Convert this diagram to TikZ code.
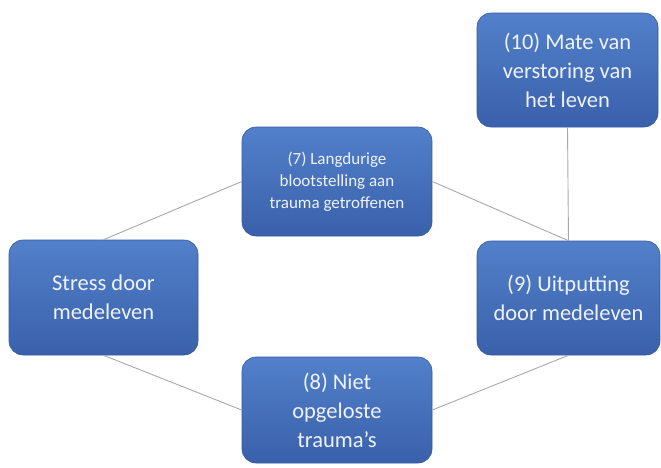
\documentclass[tikz,border=0pt]{standalone}
\usepackage{fontspec}
\setmainfont{Carlito}
\definecolor{boxtop}{HTML}{5280CA}
\definecolor{boxbot}{HTML}{3A60AB}
\definecolor{boxedge}{HTML}{3559A0}
\definecolor{boxtext}{HTML}{EEF2FA}
\definecolor{linkgray}{HTML}{A8A8A8}
\begin{document}
\begin{tikzpicture}[x=1pt,y=-1pt,
  bluebox/.style={rectangle, rounded corners=14pt, top color=boxtop, bottom color=boxbot,
    draw=boxedge, line width=0.6pt, text=boxtext, align=center, inner sep=0pt},
  bigtext/.style={font=\fontsize{22.5}{29}\selectfont},
  smalltext/.style={font=\fontsize{17}{22}\selectfont},
  link/.style={draw=linkgray, line width=0.9pt}]
\useasboundingbox (0,0) rectangle (661,467);
\node[bluebox, bigtext, minimum width=181pt, minimum height=114pt] (b10) at (567.5,70) {(10) Mate van\\verstoring van\\het leven};
\node[bluebox, smalltext, minimum width=190pt, minimum height=109pt] (b7) at (337,181.5) {(7) Langdurige\\blootstelling aan\\trauma getroffenen};
\node[bluebox, bigtext, minimum width=189pt, minimum height=115pt] (bs) at (103.5,297.5) {Stress door\\medeleven};
\node[bluebox, bigtext, minimum width=183pt, minimum height=114pt] (b9) at (568.5,298) {(9) Uitputting\\door medeleven};
\node[bluebox, bigtext, minimum width=190pt, minimum height=106pt] (b8) at (337,410) {(8) Niet\\opgeloste\\trauma’s};
\path[link] (bs.north) -- (b7.west);
\path[link] (b7.east) -- (b9.north);
\path[link] (b10.south) -- (b9.north);
\path[link] (bs.south) -- (b8.west);
\path[link] (b8.east) -- (b9.south);
\end{tikzpicture}
\end{document}
